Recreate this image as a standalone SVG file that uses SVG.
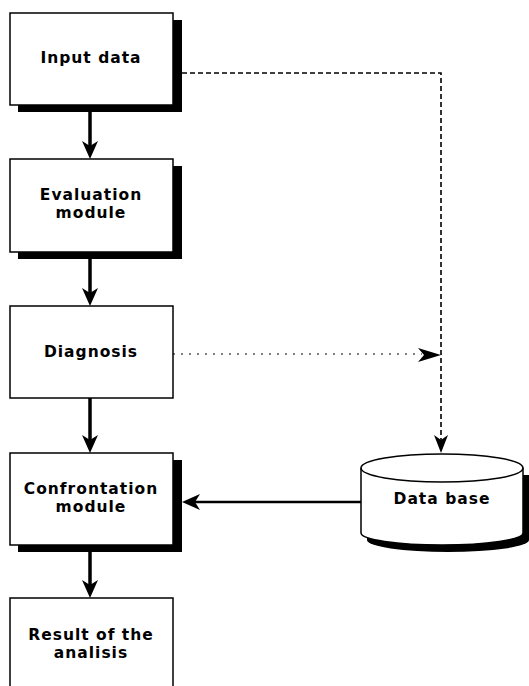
<svg xmlns="http://www.w3.org/2000/svg" width="529" height="686" viewBox="0 0 529 686">
  <style>
    .box { fill: #ffffff; stroke: #000000; stroke-width: 1.5; }
    .shadow { fill: #000000; }
    .label { font-family: "DejaVu Sans", "Liberation Sans", sans-serif; font-weight: bold; font-size: 15.5px; letter-spacing: 1px; fill: #000000; text-anchor: middle; }
    .flow { stroke: #000000; stroke-width: 3.5; fill: none; }
    .head { fill: #000000; }
  </style>
  <rect width="529" height="686" fill="#ffffff"/>

  <!-- connectors -->
  <g id="connectors">
    <!-- main vertical flow -->
    <line class="flow" x1="90" y1="112" x2="90" y2="146"/>
    <path class="head" d="M90,159 L82,141 L90,146 L98,141 Z"/>
    <line class="flow" x1="90" y1="259" x2="90" y2="293"/>
    <path class="head" d="M90,306 L82,288 L90,293 L98,288 Z"/>
    <line class="flow" x1="90" y1="398" x2="90" y2="440"/>
    <path class="head" d="M90,453 L82,435 L90,440 L98,435 Z"/>
    <line class="flow" x1="90" y1="552" x2="90" y2="585"/>
    <path class="head" d="M90,598 L82,580 L90,585 L98,580 Z"/>

    <!-- data base to confrontation -->
    <line x1="361" y1="502" x2="194" y2="502" stroke="#000" stroke-width="2.5"/>
    <path class="head" d="M182,502 L200,494 L195,502 L200,510 Z"/>

    <!-- input data to data base (dashed) -->
    <polyline points="182,73 441,73 441,440" fill="none" stroke="#000" stroke-width="1.6" stroke-dasharray="5,3"/>
    <path class="head" d="M441,453 L434,435 L441,440 L448,435 Z"/>

    <!-- diagnosis to data base line (dotted) -->
    <line x1="173" y1="354" x2="422" y2="354" stroke="#000" stroke-width="1.2" stroke-dasharray="2,6"/>
    <path class="head" d="M441,355 L418,348 L424,355 L418,362 Z"/>
  </g>

  <g id="input-data">
    <rect class="shadow" x="18" y="20" width="164" height="92"/>
    <rect class="box" x="10" y="13" width="163" height="92"/>
    <text class="label" x="91" y="63">Input data</text>
  </g>

  <g id="evaluation-module">
    <rect class="shadow" x="18" y="166" width="164" height="93"/>
    <rect class="box" x="10" y="159" width="163" height="93"/>
    <text class="label" x="91" y="200">Evaluation</text>
    <text class="label" x="91" y="218">module</text>
  </g>

  <g id="diagnosis">
    <rect class="box" x="10" y="306" width="163" height="92"/>
    <text class="label" x="91" y="357">Diagnosis</text>
  </g>

  <g id="confrontation-module">
    <rect class="shadow" x="18" y="460" width="164" height="92"/>
    <rect class="box" x="10" y="453" width="163" height="92"/>
    <text class="label" x="91" y="494">Confrontation</text>
    <text class="label" x="91" y="512">module</text>
  </g>

  <g id="result">
    <rect class="box" x="10" y="598" width="163" height="100"/>
    <text class="label" x="91" y="640">Result of the</text>
    <text class="label" x="91" y="658">analisis</text>
  </g>

  <g id="data-base">
    <path class="shadow" d="M367,475 L367,540 A81,12 0 0 0 529,540 L529,475 Z"/>
    <path class="box" d="M361,468 L361,533 A81,12 0 0 0 523,533 L523,468 A81,14 0 0 0 361,468 Z"/>
    <path d="M361,468 A81,14 0 0 0 523,468" fill="none" stroke="#000" stroke-width="1.5"/>
    <text class="label" x="442" y="504">Data base</text>
  </g>
</svg>
